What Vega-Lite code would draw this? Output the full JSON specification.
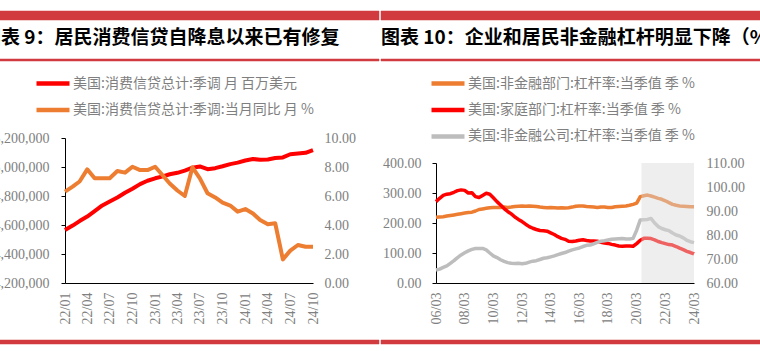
{
  "$schema": "https://vega.github.io/schema/vega-lite/v6.json",
  "padding": {"left": -19, "top": 10, "right": -44, "bottom": 0},
  "background": "white",
  "config": {
    "view": {"stroke": null},
    "font": "Noto Sans CJK SC",
    "axis": {"labelFont": "Liberation Serif", "labelFontSize": 14, "labelColor": "#808080", "grid": false, "title": null, "domainColor": "#000000", "tickColor": "#000000", "domainWidth": 1, "labelOverlap": false},
    "axisX": {"labelOverlap": false, "tickCount": 100},
    "title": {"anchor": "start", "frame": "group", "font": "Noto Sans CJK SC", "fontSize": 19, "fontWeight": "bold", "color": "#000000", "offset": 11},
    "legend": {"orient": "none", "direction": "vertical", "title": null, "padding": 10, "symbolType": "stroke", "symbolSize": 1089, "symbolStrokeWidth": 4.5, "clipHeight": 20, "rowPadding": 6.4, "labelOffset": 1, "labelFont": "Noto Sans CJK SC", "labelFontSize": 14, "labelColor": "#7F7F7F", "labelLimit": 500}
  },
  "spacing": 0,
  "resolve": {"scale": {"color": "independent"}, "legend": {"color": "independent"}},
  "hconcat": [
    {"spacing": 7, "vconcat": [
      {"width": 397, "height": 9, "view": {"fill": "#D13B3F", "stroke": "#D13B3F", "strokeWidth": 0.5}, "data": {"values": []}, "mark": "rule", "encoding": {}},
      {"spacing": 69, "vconcat": [
        {"width": 397, "height": 2, "view": {"fill": "#D13B3F", "stroke": "#D13B3F", "strokeWidth": 0.5}, "title": {"text": "图表 9：居民消费信贷自降息以来已有修复"}, "data": {"values": []}, "mark": "rule", "encoding": {}},
        {"spacing": 15, "vconcat": [
          {"spacing": 0, "hconcat": [
            {"width": 11, "height": 10, "data": {"values": []}, "mark": "rule", "encoding": {}},
            {
              "width": 248, "height": 145,
              "data": {"name": "credit"},
              "layer": [
                {
                  "mark": {"type": "line", "strokeWidth": 4, "strokeJoin": "round"},
                  "encoding": {
                    "x": {"field": "m", "type": "temporal",
                      "scale": {"type": "utc", "nice": false, "domain": [{"year": 2022, "month": 1, "date": 1, "utc": true}, {"year": 2024, "month": 10, "date": 1, "utc": true}]},
                      "axis": {"labelExpr": "utcFormat(datum.value, '%y/%m')", "labelAngle": -90, "ticks": false, "tickSize": 0, "labelPadding": 9, "labelOverlap": false, "tickCount": 100,
                        "values": [
                          {"year": 2022, "month": 1, "date": 1, "utc": true}, {"year": 2022, "month": 4, "date": 1, "utc": true},
                          {"year": 2022, "month": 7, "date": 1, "utc": true}, {"year": 2022, "month": 10, "date": 1, "utc": true},
                          {"year": 2023, "month": 1, "date": 1, "utc": true}, {"year": 2023, "month": 4, "date": 1, "utc": true},
                          {"year": 2023, "month": 7, "date": 1, "utc": true}, {"year": 2023, "month": 10, "date": 1, "utc": true},
                          {"year": 2024, "month": 1, "date": 1, "utc": true}, {"year": 2024, "month": 4, "date": 1, "utc": true},
                          {"year": 2024, "month": 7, "date": 1, "utc": true}, {"year": 2024, "month": 10, "date": 1, "utc": true}
                        ]}},
                    "y": {"field": "credit", "type": "quantitative",
                      "scale": {"domain": [4200000, 5200000], "nice": false, "zero": false},
                      "axis": {"values": [4200000, 4400000, 4600000, 4800000, 5000000, 5200000], "tickCount": 100, "labelExpr": "format(datum.value, ',')", "tickSize": 4, "labelPadding": 12}},
                    "color": {"datum": "美国:消费信贷总计:季调 月 百万美元", "type": "nominal",
                      "scale": {"domain": ["美国:消费信贷总计:季调 月 百万美元", "美国:消费信贷总计:季调:当月同比 月 %"], "range": ["#FF0000", "#ED7D31"]},
                      "legend": {"legendX": 42, "legendY": 52.6}}
                  }
                },
                {
                  "mark": {"type": "line", "strokeWidth": 4, "strokeJoin": "round"},
                  "encoding": {
                    "x": {"field": "m", "type": "temporal", "axis": {"labelOverlap": false, "tickCount": 100}},
                    "y": {"field": "yoy", "type": "quantitative",
                      "scale": {"domain": [0, 10], "nice": false},
                      "axis": {"orient": "right", "values": [0, 2, 4, 6, 8, 10], "tickCount": 100, "labelExpr": "format(datum.value, '.2f')", "domain": false, "ticks": false, "tickSize": 0, "labelPadding": 11}},
                    "color": {"datum": "美国:消费信贷总计:季调:当月同比 月 %", "type": "nominal"}
                  }
                }
              ],
              "resolve": {"scale": {"y": "independent"}}
            }
          ]},
          {"width": 397, "height": 4, "view": {"fill": "#D13B3F", "stroke": "#D13B3F", "strokeWidth": 0.5}, "data": {"values": []}, "mark": "rule", "encoding": {}}
        ]}
      ]}
    ]},
    {"spacing": 7, "vconcat": [
      {"width": 423, "height": 9, "view": {"fill": "#D13B3F", "stroke": "#D13B3F", "strokeWidth": 0.5}, "data": {"values": []}, "mark": "rule", "encoding": {}},
      {"spacing": 94, "vconcat": [
        {"width": 423, "height": 2, "view": {"fill": "#D13B3F", "stroke": "#D13B3F", "strokeWidth": 0.5}, "title": {"text": "图表 10：企业和居民非金融杠杆明显下降（%）"}, "data": {"values": []}, "mark": "rule", "encoding": {}},
        {"spacing": 15, "vconcat": [
          {"spacing": 0, "hconcat": [
            {"width": 1, "height": 10, "data": {"values": []}, "mark": "rule", "encoding": {}},
            {
              "width": 258, "height": 120,
              "layer": [
                {
                  "data": {"name": "lev"},
                  "mark": {"type": "line", "strokeWidth": 3.5, "strokeJoin": "round"},
                  "encoding": {
                    "x": {"field": "q", "type": "temporal",
                      "scale": {"type": "utc", "nice": false, "domain": [{"year": 2006, "month": 3, "date": 1, "utc": true}, {"year": 2024, "month": 3, "date": 1, "utc": true}]},
                      "axis": {"labelExpr": "utcFormat(datum.value, '%y/%m')", "labelAngle": -90, "ticks": false, "tickSize": 0, "labelPadding": 9, "labelOverlap": false, "tickCount": 100,
                        "values": [
                          {"year": 2006, "month": 3, "date": 1, "utc": true}, {"year": 2008, "month": 3, "date": 1, "utc": true},
                          {"year": 2010, "month": 3, "date": 1, "utc": true}, {"year": 2012, "month": 3, "date": 1, "utc": true},
                          {"year": 2014, "month": 3, "date": 1, "utc": true}, {"year": 2016, "month": 3, "date": 1, "utc": true},
                          {"year": 2018, "month": 3, "date": 1, "utc": true}, {"year": 2020, "month": 3, "date": 1, "utc": true},
                          {"year": 2022, "month": 3, "date": 1, "utc": true}, {"year": 2024, "month": 3, "date": 1, "utc": true}
                        ]}},
                    "y": {"field": "nonfin", "type": "quantitative",
                      "scale": {"domain": [0, 400], "nice": false},
                      "axis": {"values": [0, 100, 200, 300, 400], "tickCount": 100, "labelExpr": "format(datum.value, '.2f')", "tickSize": 4, "labelPadding": 11}},
                    "color": {"datum": "美国:非金融部门:杠杆率:当季值 季 %", "type": "nominal",
                      "scale": {"domain": ["美国:非金融部门:杠杆率:当季值 季 %", "美国:家庭部门:杠杆率:当季值 季 %", "美国:非金融公司:杠杆率:当季值 季 %"], "range": ["#ED7D31", "#FF0000", "#BDBDBD"]},
                      "legend": {"legendX": 38, "legendY": 52.6}}
                  }
                },
                {
                  "data": {"name": "lev"},
                  "mark": {"type": "line", "strokeWidth": 3.5, "strokeJoin": "round"},
                  "encoding": {
                    "x": {"field": "q", "type": "temporal", "axis": {"labelOverlap": false, "tickCount": 100}},
                    "y": {"field": "hh", "type": "quantitative",
                      "scale": {"domain": [60, 110], "nice": false, "zero": false},
                      "axis": {"orient": "right", "values": [60, 70, 80, 90, 100, 110], "tickCount": 100, "labelExpr": "format(datum.value, '.2f')", "domain": false, "ticks": false, "tickSize": 0, "labelPadding": 12}},
                    "color": {"datum": "美国:家庭部门:杠杆率:当季值 季 %", "type": "nominal"}
                  }
                },
                {
                  "data": {"name": "lev"},
                  "mark": {"type": "line", "strokeWidth": 3.5, "strokeJoin": "round"},
                  "encoding": {
                    "x": {"field": "q", "type": "temporal", "axis": {"labelOverlap": false, "tickCount": 100}},
                    "y": {"field": "corp", "type": "quantitative",
                      "scale": {"domain": [60, 110], "nice": false, "zero": false},
                      "axis": null},
                    "color": {"datum": "美国:非金融公司:杠杆率:当季值 季 %", "type": "nominal"}
                  }
                },
                {
                  "data": {"values": [{"s": "2020-07-01", "e": "2024-03-01"}]},
                  "mark": {"type": "rect", "fill": "#D9D9D9", "opacity": 0.45},
                  "encoding": {
                    "x": {"field": "s", "type": "temporal", "axis": {"labelOverlap": false, "tickCount": 100}},
                    "x2": {"field": "e"}
                  }
                }
              ],
              "resolve": {"scale": {"y": "independent"}}
            }
          ]},
          {"width": 423, "height": 4, "view": {"fill": "#D13B3F", "stroke": "#D13B3F", "strokeWidth": 0.5}, "data": {"values": []}, "mark": "rule", "encoding": {}}
        ]}
      ]}
    ]}
  ],
  "datasets": {
    "credit": [
      {"m": "2022-01-01", "credit": 4565000, "yoy": 6.30},
      {"m": "2022-02-01", "credit": 4596000, "yoy": 6.65},
      {"m": "2022-03-01", "credit": 4627000, "yoy": 7.00},
      {"m": "2022-04-01", "credit": 4658000, "yoy": 7.84},
      {"m": "2022-05-01", "credit": 4695000, "yoy": 7.22},
      {"m": "2022-06-01", "credit": 4735000, "yoy": 7.22},
      {"m": "2022-07-01", "credit": 4762000, "yoy": 7.22},
      {"m": "2022-08-01", "credit": 4790000, "yoy": 7.72},
      {"m": "2022-09-01", "credit": 4822000, "yoy": 7.61},
      {"m": "2022-10-01", "credit": 4850000, "yoy": 8.02},
      {"m": "2022-11-01", "credit": 4882000, "yoy": 7.79},
      {"m": "2022-12-01", "credit": 4905000, "yoy": 7.79},
      {"m": "2023-01-01", "credit": 4922000, "yoy": 8.02},
      {"m": "2023-02-01", "credit": 4935000, "yoy": 7.41},
      {"m": "2023-03-01", "credit": 4950000, "yoy": 6.86},
      {"m": "2023-04-01", "credit": 4960000, "yoy": 6.38},
      {"m": "2023-05-01", "credit": 4975000, "yoy": 6.00},
      {"m": "2023-06-01", "credit": 4995000, "yoy": 7.98},
      {"m": "2023-07-01", "credit": 5004000, "yoy": 7.22},
      {"m": "2023-08-01", "credit": 4985000, "yoy": 6.19},
      {"m": "2023-09-01", "credit": 4992000, "yoy": 5.90},
      {"m": "2023-10-01", "credit": 5005000, "yoy": 5.54},
      {"m": "2023-11-01", "credit": 5020000, "yoy": 5.34},
      {"m": "2023-12-01", "credit": 5030000, "yoy": 4.92},
      {"m": "2024-01-01", "credit": 5045000, "yoy": 5.10},
      {"m": "2024-02-01", "credit": 5055000, "yoy": 4.79},
      {"m": "2024-03-01", "credit": 5050000, "yoy": 4.34},
      {"m": "2024-04-01", "credit": 5052000, "yoy": 4.05},
      {"m": "2024-05-01", "credit": 5062000, "yoy": 4.12},
      {"m": "2024-06-01", "credit": 5066000, "yoy": 1.63},
      {"m": "2024-07-01", "credit": 5088000, "yoy": 2.23},
      {"m": "2024-08-01", "credit": 5093000, "yoy": 2.62},
      {"m": "2024-09-01", "credit": 5098000, "yoy": 2.50},
      {"m": "2024-10-01", "credit": 5117000, "yoy": 2.50}
    ],
    "lev": [
      {"q": "2006-03-01", "nonfin": 219, "hh": 93.9, "corp": 65.4},
      {"q": "2006-06-01", "nonfin": 220, "hh": 95.3, "corp": 65.8},
      {"q": "2006-09-01", "nonfin": 221, "hh": 96.5, "corp": 66.5},
      {"q": "2006-12-01", "nonfin": 223, "hh": 97.0, "corp": 67.1},
      {"q": "2007-03-01", "nonfin": 225, "hh": 97.2, "corp": 68.2},
      {"q": "2007-06-01", "nonfin": 227, "hh": 97.8, "corp": 69.3},
      {"q": "2007-09-01", "nonfin": 229, "hh": 98.5, "corp": 70.6},
      {"q": "2007-12-01", "nonfin": 231, "hh": 98.8, "corp": 71.7},
      {"q": "2008-03-01", "nonfin": 233, "hh": 98.6, "corp": 72.6},
      {"q": "2008-06-01", "nonfin": 235, "hh": 97.5, "corp": 73.4},
      {"q": "2008-09-01", "nonfin": 236, "hh": 97.6, "corp": 74.0},
      {"q": "2008-12-01", "nonfin": 240, "hh": 96.0, "corp": 74.4},
      {"q": "2009-03-01", "nonfin": 245, "hh": 95.6, "corp": 74.4},
      {"q": "2009-06-01", "nonfin": 247, "hh": 96.5, "corp": 74.4},
      {"q": "2009-09-01", "nonfin": 249, "hh": 97.4, "corp": 73.8},
      {"q": "2009-12-01", "nonfin": 251, "hh": 97.0, "corp": 72.5},
      {"q": "2010-03-01", "nonfin": 252, "hh": 95.5, "corp": 71.3},
      {"q": "2010-06-01", "nonfin": 252, "hh": 93.9, "corp": 70.6},
      {"q": "2010-09-01", "nonfin": 252, "hh": 92.5, "corp": 69.7},
      {"q": "2010-12-01", "nonfin": 253, "hh": 91.0, "corp": 69.0},
      {"q": "2011-03-01", "nonfin": 252, "hh": 89.8, "corp": 68.5},
      {"q": "2011-06-01", "nonfin": 253, "hh": 88.8, "corp": 68.2},
      {"q": "2011-09-01", "nonfin": 255, "hh": 87.5, "corp": 68.1},
      {"q": "2011-12-01", "nonfin": 256, "hh": 86.5, "corp": 68.2},
      {"q": "2012-03-01", "nonfin": 257, "hh": 85.6, "corp": 68.0},
      {"q": "2012-06-01", "nonfin": 256, "hh": 84.5, "corp": 68.2},
      {"q": "2012-09-01", "nonfin": 257, "hh": 83.5, "corp": 68.7},
      {"q": "2012-12-01", "nonfin": 256, "hh": 82.8, "corp": 69.1},
      {"q": "2013-03-01", "nonfin": 255, "hh": 82.3, "corp": 69.3},
      {"q": "2013-06-01", "nonfin": 253, "hh": 81.9, "corp": 69.8},
      {"q": "2013-09-01", "nonfin": 252, "hh": 81.8, "corp": 70.3},
      {"q": "2013-12-01", "nonfin": 251, "hh": 81.6, "corp": 70.5},
      {"q": "2014-03-01", "nonfin": 252, "hh": 80.9, "corp": 70.9},
      {"q": "2014-06-01", "nonfin": 251, "hh": 80.2, "corp": 71.3},
      {"q": "2014-09-01", "nonfin": 250, "hh": 79.3, "corp": 71.8},
      {"q": "2014-12-01", "nonfin": 251, "hh": 78.6, "corp": 72.3},
      {"q": "2015-03-01", "nonfin": 250, "hh": 78.2, "corp": 72.7},
      {"q": "2015-06-01", "nonfin": 251, "hh": 77.4, "corp": 73.3},
      {"q": "2015-09-01", "nonfin": 253, "hh": 77.3, "corp": 73.8},
      {"q": "2015-12-01", "nonfin": 256, "hh": 77.5, "corp": 74.2},
      {"q": "2016-03-01", "nonfin": 257, "hh": 77.8, "corp": 74.6},
      {"q": "2016-06-01", "nonfin": 257, "hh": 78.0, "corp": 75.2},
      {"q": "2016-09-01", "nonfin": 255, "hh": 77.7, "corp": 75.7},
      {"q": "2016-12-01", "nonfin": 254, "hh": 77.5, "corp": 75.8},
      {"q": "2017-03-01", "nonfin": 253, "hh": 77.5, "corp": 76.3},
      {"q": "2017-06-01", "nonfin": 252, "hh": 77.4, "corp": 76.9},
      {"q": "2017-09-01", "nonfin": 253, "hh": 77.0, "corp": 77.4},
      {"q": "2017-12-01", "nonfin": 253, "hh": 76.7, "corp": 77.6},
      {"q": "2018-03-01", "nonfin": 252, "hh": 76.5, "corp": 77.9},
      {"q": "2018-06-01", "nonfin": 252, "hh": 76.1, "corp": 78.2},
      {"q": "2018-09-01", "nonfin": 254, "hh": 75.8, "corp": 78.3},
      {"q": "2018-12-01", "nonfin": 255, "hh": 75.4, "corp": 78.4},
      {"q": "2019-03-01", "nonfin": 256, "hh": 75.3, "corp": 78.5},
      {"q": "2019-06-01", "nonfin": 257, "hh": 75.4, "corp": 78.3},
      {"q": "2019-09-01", "nonfin": 259, "hh": 75.4, "corp": 78.3},
      {"q": "2019-12-01", "nonfin": 262, "hh": 75.3, "corp": 78.6},
      {"q": "2020-03-01", "nonfin": 266, "hh": 76.4, "corp": 82.0},
      {"q": "2020-06-01", "nonfin": 288, "hh": 77.8, "corp": 86.3},
      {"q": "2020-09-01", "nonfin": 291, "hh": 78.6, "corp": 86.4},
      {"q": "2020-12-01", "nonfin": 293, "hh": 78.6, "corp": 86.5},
      {"q": "2021-03-01", "nonfin": 290, "hh": 78.5, "corp": 86.9},
      {"q": "2021-06-01", "nonfin": 286, "hh": 78.0, "corp": 85.0},
      {"q": "2021-09-01", "nonfin": 282, "hh": 77.3, "corp": 83.5},
      {"q": "2021-12-01", "nonfin": 279, "hh": 76.8, "corp": 82.7},
      {"q": "2022-03-01", "nonfin": 274, "hh": 76.4, "corp": 82.2},
      {"q": "2022-06-01", "nonfin": 268, "hh": 76.0, "corp": 81.8},
      {"q": "2022-09-01", "nonfin": 262, "hh": 75.8, "corp": 80.8},
      {"q": "2022-12-01", "nonfin": 259, "hh": 75.2, "corp": 80.0},
      {"q": "2023-03-01", "nonfin": 257, "hh": 74.5, "corp": 79.6},
      {"q": "2023-06-01", "nonfin": 256, "hh": 73.9, "corp": 78.8},
      {"q": "2023-09-01", "nonfin": 255, "hh": 73.2, "corp": 77.8},
      {"q": "2023-12-01", "nonfin": 254, "hh": 72.7, "corp": 77.2},
      {"q": "2024-03-01", "nonfin": 254, "hh": 72.1, "corp": 76.8}
    ]
  }
}
